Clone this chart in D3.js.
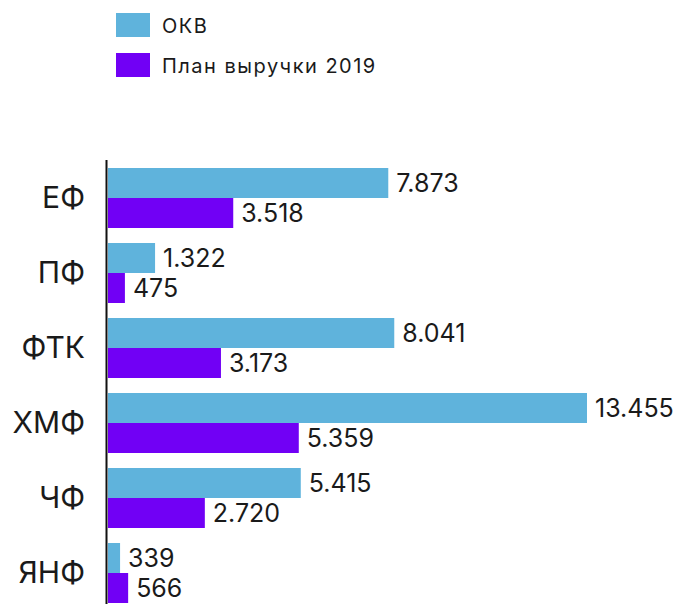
<!DOCTYPE html>
<html><head><meta charset="utf-8">
<script src="https://cdn.jsdelivr.net/npm/d3@7/dist/d3.min.js"></script>
<style>body{margin:0;background:#fff;} text{font-family:Inter,"Noto Sans",sans-serif;}</style>
</head><body><svg id="c" width="679" height="604"></svg>
<script>
const categories = ["ЕФ","ПФ","ФТК","ХМФ","ЧФ","ЯНФ"];
const seriesNames = ["ОКВ","План выручки 2019"];
const okv = [7873,1322,8041,13455,5415,339];
const plan = [3518,475,3173,5359,2720,566];
const colors = ["#5fb3dc","#7100f5"];

(function(){
const svg = d3.select("#c");
const mLeft = 108, mTop = 168;
const x = d3.scaleLinear().domain([0,13455]).range([mLeft, mLeft+479]);
const y = d3.scaleBand().domain(categories).range([mTop, mTop+75*6-15]).paddingInner(0.2).paddingOuter(0);
const sub = d3.scaleBand().domain(seriesNames).range([0,y.bandwidth()]);
const fmt = d3.formatLocale({decimal:",",thousands:".",grouping:[3],currency:["",""]}).format(",d");

const data = categories.map((c,i)=>({c, vals:[okv[i],plan[i]]}));
const g = svg.append("g");
data.forEach(d=>{
  d.vals.forEach((v,k)=>{
    const yy = y(d.c)+sub(seriesNames[k]);
    g.append("rect").attr("x",x(0)).attr("y",yy).attr("width",x(v)-x(0)).attr("height",sub.bandwidth()).attr("fill",colors[k]);
    g.append("text").attr("x",x(v)+8).attr("y",yy+sub.bandwidth()/2+9)
      .attr("font-size",25).attr("fill","#1a1a1a").text(fmt(v));
  });
  svg.append("text").attr("x",85).attr("y",y(d.c)+y.bandwidth()/2+10).attr("text-anchor","end")
    .attr("font-size",30).attr("fill","#1a1a1a").text(d.c);
});
svg.append("line").attr("x1",106.5).attr("x2",106.5).attr("y1",160).attr("y2",604).attr("stroke","#111").attr("stroke-width",2);

const leg = svg.append("g");
seriesNames.forEach((s,k)=>{
  leg.append("rect").attr("x",116).attr("y",13+40*k).attr("width",34).attr("height",24).attr("fill",colors[k]);
  leg.append("text").attr("x",162).attr("y",33+40*k).attr("font-size",20).attr("letter-spacing",1.5).attr("fill","#1a1a1a").text(s);
});
})();
</script></body></html>
